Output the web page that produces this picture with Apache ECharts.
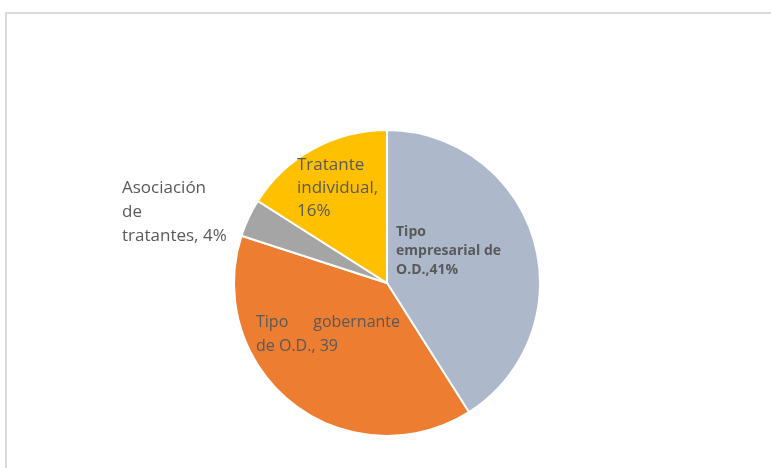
<!DOCTYPE html>
<html>
<head>
<meta charset="utf-8">
<script src="https://cdn.jsdelivr.net/npm/echarts@6/dist/echarts.min.js"></script>
<style>
  html, body { margin: 0; padding: 0; background: #fff; }
  #main { width: 771px; height: 468px; }
</style>
</head>
<body>
<div id="main"></div>
<script>
var categories = ['Tipo empresarial de O.D.', 'Tipo gobernante de O.D.', 'Asociación de tratantes', 'Tratante individual'];
var values = [41, 39, 4, 16];
var labelTexts = [
    'Tipo\nempresarial de\nO.D.,41%',
    'Tipo      gobernante\nde O.D., 39',
    'Asociación\nde\ntratantes, 4%',
    'Tratante\nindividual,\n16%'
];
var colors = ['#ADB9CA', '#ED7D31', '#A5A5A5', '#FFC000'];

// where each label's top-left sits
var labelPos = [[396, 223], [256, 310], [122, 176], [297, 154]];
var labelStyle = [
    { fontSize: 14, fontWeight: 'bold', lineHeight: 19 },
    { fontSize: 16, lineHeight: 24 },
    { fontSize: 17, lineHeight: 24 },
    { fontSize: 17, lineHeight: 23 }
];

function createPie(selectorId) {
    var myChart = echarts.init(document.getElementById(selectorId));
    var data = categories.map(function (name, i) {
        return {
            name: name,
            value: values[i],
            itemStyle: { color: colors[i] },
            label: Object.assign({ formatter: labelTexts[i] }, labelStyle[i])
        };
    });
    var option = {
        backgroundColor: '#fff',
        animation: false,
        graphic: [{
            type: 'polyline',
            shape: { points: [[6, 468], [6, 13], [771, 13]] },
            style: { stroke: '#d9d9d9', lineWidth: 2, fill: null }
        }],
        series: [{
            type: 'pie',
            center: [387, 283],
            radius: 153,
            startAngle: 90,
            clockwise: true,
            itemStyle: {
                borderColor: '#fff',
                borderWidth: 2
            },
            label: {
                show: true,
                position: 'inside',
                color: '#595959',
                fontFamily: 'Open Sans',
                align: 'left'
            },
            labelLine: { show: false },
            labelLayout: function (params) {
                var p = labelPos[params.dataIndex];
                return { x: p[0], y: p[1], align: 'left', verticalAlign: 'top' };
            },
            emphasis: { disabled: true },
            data: data
        }]
    };
    myChart.setOption(option);
    window.addEventListener('resize', function () {
        myChart.resize();
    });
}
createPie('main');
</script>
</body>
</html>
